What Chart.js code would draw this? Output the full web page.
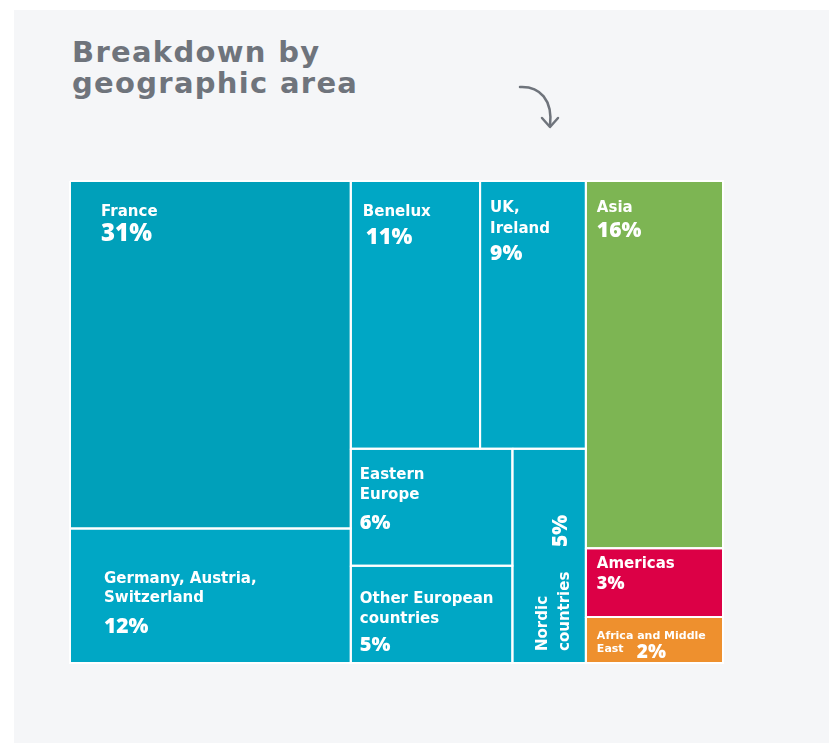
<!DOCTYPE html>
<html>
<head>
<meta charset="utf-8">
<script src="https://cdn.jsdelivr.net/npm/chart.js@4"></script>
<style>
  body { margin: 0; background: #fff; font-family: "Open Sans", sans-serif; }
  .panel { position: absolute; left: 14px; top: 10px; width: 815px; height: 733px; background: #f5f6f8; }
  h1 { position: absolute; left: 72px; top: 37px; margin: 0; font-family: "DejaVu Sans", sans-serif;
       font-size: 29px; line-height: 31px; font-weight: 700; color: #6f747c; letter-spacing: 1.3px; }
  .arrow { position: absolute; left: 0; top: 0; }
  .box { position: absolute; left: 68px; top: 179px; width: 657px; height: 486px; }
</style>
</head>
<body>
<div class="panel"></div>
<h1>Breakdown by<br>geographic area</h1>
<svg class="arrow" width="829" height="160">
  <path d="M520 87 C540 86 553 100 550 126" fill="none" stroke="#6f747c" stroke-width="2.5" stroke-linecap="round"/>
  <path d="M542 118 L550 127 L558 118" fill="none" stroke="#6f747c" stroke-width="2.5" stroke-linecap="round" stroke-linejoin="round"/>
</svg>
<div class="box"><canvas id="tree"></canvas></div>
<script>
// --- data ---
const regions = ['France', 'Germany, Austria, Switzerland', 'Benelux', 'UK, Ireland', 'Eastern Europe',
  'Other European countries', 'Nordic countries', 'Asia', 'Americas', 'Africa and Middle East'];
const shares = [31, 12, 11, 9, 6, 5, 5, 16, 3, 2];
const labelLines = [['France'], ['Germany, Austria,', 'Switzerland'], ['Benelux'], ['UK,', 'Ireland'],
  ['Eastern', 'Europe'], ['Other European', 'countries'], ['Nordic', 'countries'], ['Asia'], ['Americas'],
  ['Africa and Middle', 'East']];
const colors = ['#00a0ba', '#00a7c5', '#00a7c5', '#00a7c5', '#00a7c5', '#00a7c5', '#00a7c5',
  '#7db553', '#dc0046', '#ee902e'];

// how the cells are grouped: h = side by side, v = stacked
const tree = { dir: 'h', kids: [
  { dir: 'v', kids: [0, 1] },
  { dir: 'v', kids: [{ dir: 'h', kids: [2, 3] }, { dir: 'h', kids: [{ dir: 'v', kids: [4, 5] }, 6] }] },
  { dir: 'v', kids: [7, 8, 9] },
]};

// label placement in px from the cell corner (style only)
const labelStyle = [
  { dx: 31, dy: 35, lh: 20, size: 15, pct: 24, pdy: 60 },
  { dx: 34, dy: 55, lh: 19, size: 15, pct: 21, pdy: 105 },
  { dx: 12, dy: 35, lh: 20, size: 15, pct: 22, pdx: 15, pdy: 63 },
  { dx: 10, dy: 31, lh: 21, size: 15, pct: 21, pdy: 79 },
  { dx: 9, dy: 30, lh: 20, size: 15, pct: 20, pdy: 80 },
  { dx: 9, dy: 37, lh: 20, size: 15, pct: 20, pdy: 85 },
  { rot: true, dx: 35, up: 12, lh: 22, size: 15, pct: 21, pdx: 55, pup: 116 },
  { dx: 11, dy: 31, lh: 20, size: 15, pct: 21, pdy: 56 },
  { dx: 11, dy: 20, lh: 20, size: 15, pct: 18, pdy: 41 },
  { bottom: true, dx: 11, dy: -24, lh: 13, size: 11, pct: 19, pdx: 51, pdy: -5 },
];

// --- slice and dice layout on a 0..100 square ---
function total(n) { return typeof n === 'number' ? shares[n] : n.kids.reduce((s, k) => s + total(k), 0); }
const cells = [];
function place(n, x0, y0, x1, y1) {
  if (typeof n === 'number') { cells[n] = { x0, y0, x1, y1 }; return; }
  const sum = total(n);
  let pos = n.dir === 'h' ? x0 : y0;
  n.kids.forEach(k => {
    const len = (n.dir === 'h' ? x1 - x0 : y1 - y0) * total(k) / sum;
    if (n.dir === 'h') place(k, pos, y0, pos + len, y1); else place(k, x0, pos, x1, pos + len);
    pos += len;
  });
}
place(tree, 0, 0, 100, 100);

// cell fills: bottom edge filled up to the top edge value
const fills = regions.map((r, i) => {
  const c = cells[i];
  return {
    label: r,
    data: [{ x: c.x0, y: c.y1 }, { x: c.x1, y: c.y1 }],
    fill: { value: c.y0 }, backgroundColor: colors[i],
    borderWidth: 0, pointRadius: 0, clip: false,
  };
});
// white outlines drawn over the fills
const outlines = regions.map((r, i) => {
  const c = cells[i];
  return {
    label: r + ' outline',
    data: [{ x: c.x0, y: c.y0 }, { x: c.x1, y: c.y0 }, { x: c.x1, y: c.y1 }, { x: c.x0, y: c.y1 }, { x: c.x0, y: c.y0 }],
    fill: false, borderColor: '#ffffff', borderWidth: 2, pointRadius: 0, clip: false,
  };
});

const labelsPlugin = {
  id: 'cellLabels',
  afterDatasetsDraw(chart) {
    const ctx = chart.ctx, sx = chart.scales.x, sy = chart.scales.y;
    ctx.save();
    ctx.fillStyle = '#ffffff';
    ctx.textBaseline = 'alphabetic';
    regions.forEach((r, i) => {
      const c = cells[i], st = labelStyle[i];
      const left = sx.getPixelForValue(c.x0), top = sy.getPixelForValue(c.y0), bottom = sy.getPixelForValue(c.y1);
      const nameFont = 'bold ' + st.size + 'px "DejaVu Sans"', pctFont = '800 ' + st.pct + 'px "Open Sans"';
      if (st.rot) {
        ctx.save();
        ctx.translate(left, bottom);
        ctx.rotate(-Math.PI / 2);
        ctx.font = nameFont;
        labelLines[i].forEach((t, j) => ctx.fillText(t, st.up, st.dx + j * st.lh));
        ctx.font = pctFont;
        ctx.fillText(shares[i] + '%', st.pup, st.pdx);
        ctx.restore();
        return;
      }
      const base = st.bottom ? bottom : top;
      ctx.font = nameFont;
      labelLines[i].forEach((t, j) => ctx.fillText(t, left + st.dx, base + st.dy + j * st.lh));
      ctx.font = pctFont;
      ctx.fillText(shares[i] + '%', left + (st.pdx ?? st.dx), base + st.pdy);
    });
    ctx.restore();
  }
};

new Chart(document.getElementById('tree'), {
  type: 'line',
  data: { datasets: [...fills, ...outlines] },
  options: {
    responsive: true, maintainAspectRatio: false, animation: false, devicePixelRatio: 1,
    layout: { padding: 2 },
    scales: {
      x: { type: 'linear', min: 0, max: 100, display: false },
      y: { type: 'linear', min: 0, max: 100, reverse: true, display: false },
    },
    plugins: { legend: { display: false }, tooltip: { enabled: false }, filler: { drawTime: 'beforeDatasetsDraw' } },
  },
  plugins: [labelsPlugin],
});
</script>
</body>
</html>
